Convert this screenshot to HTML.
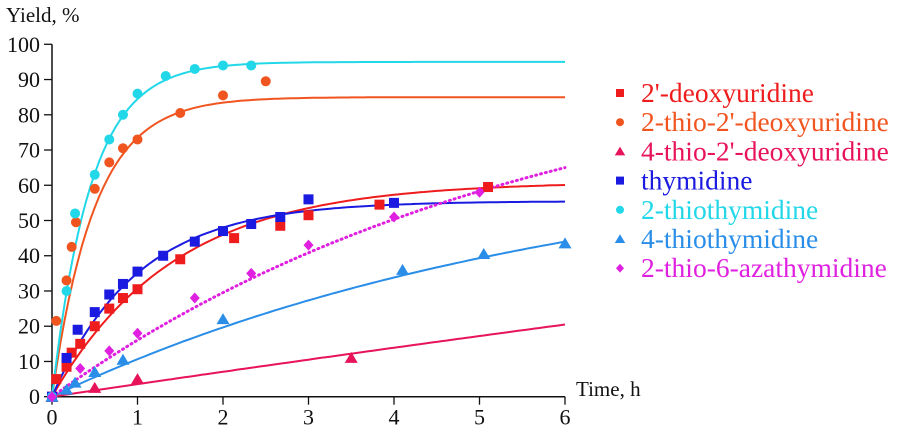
<!DOCTYPE html>
<html><head><meta charset="utf-8"><style>
body{margin:0;background:#fff}
svg text{font-family:"Liberation Serif",serif;fill:#111}
</style></head><body>
<svg id="c" width="908" height="430" xmlns="http://www.w3.org/2000/svg"></svg>
<script>
const xTicks=[0,1,2,3,4,5,6];
const yTicks=[0,10,20,30,40,50,60,70,80,90,100];
const seriesNames=["2'-deoxyuridine","2-thio-2'-deoxyuridine","4-thio-2'-deoxyuridine","thymidine","2-thiothymidine","4-thiothymidine","2-thio-6-azathymidine"];
const seriesColors=["#ee1c1c","#f05520","#e8145a","#1a1ae0","#22d8e8","#2a8ee8","#e020e0"];
const seriesMarkers=["square","circle","triangle","square","circle","triangle","diamond"];
const fitA=[61,85,200,55.5,95,70,100];
const fitK=[0.7,2.0,0.018,1.0,2.2,0.165,0.175];
const s0t=[0,0.05,0.17,0.23,0.33,0.5,0.67,0.83,1,1.5,2.13,2.67,3,3.83,5.1];
const s0v=[0,5,8.5,12.5,15,20,25,28,30.5,39,45,48.5,51.5,54.5,59.5];
const s1t=[0,0.05,0.17,0.23,0.28,0.5,0.67,0.83,1,1.5,2,2.5];
const s1v=[0,21.5,33,42.5,49.5,59,66.5,70.5,73,80.5,85.5,89.5];
const s2t=[0,0.5,1,3.5];
const s2v=[0,2.5,5,11];
const s3t=[0,0.17,0.3,0.5,0.67,0.83,1,1.3,1.67,2,2.33,2.67,3,4];
const s3v=[0,11,19,24,29,32,35.5,40,44,47,49,51,56,55];
const s4t=[0,0.17,0.27,0.5,0.67,0.83,1,1.33,1.67,2,2.33];
const s4v=[0,30,52,63,73,80,86,91,93,94,94];
const s5t=[0,0.17,0.27,0.5,0.83,2,4.1,5.05,6];
const s5v=[0,2,4,7,10.5,22,36,40.5,43.5];
const s6t=[0,0.33,0.67,1,1.67,2.33,3,4,5];
const s6v=[0,8,13,18,28,35,43,51,58];
const allT=[s0t,s1t,s2t,s3t,s4t,s5t,s6t];
const allV=[s0v,s1v,s2v,s3v,s4v,s5v,s6v];

const svg=document.getElementById('c');
const NS='http://www.w3.org/2000/svg';
const X=t=>52+t*85.5;
const Y=v=>396.7-v*3.524;
function mk(tag,attrs,parent){const e=document.createElementNS(NS,tag);for(const k in attrs)e.setAttribute(k,attrs[k]);(parent||svg).appendChild(e);return e;}

let ax=mk('path',{d:`M${X(0)} ${Y(100)}V${Y(0)}H${X(6)}`,stroke:'#111','stroke-width':1.5,fill:'none'});


yTicks.forEach(v=>{
  const l=mk('line',{x1:X(0)-8,x2:X(0),y1:Y(v),y2:Y(v),stroke:'#111','stroke-width':1.3});
  
  
  const t=mk('text',{x:X(0)-12,y:Y(v)+7.5,'text-anchor':'end','font-size':22});
  t.textContent=v;
  
  
});
xTicks.forEach(v=>{
  const l=mk('line',{x1:X(v),x2:X(v),y1:Y(0),y2:Y(0)+8,stroke:'#111','stroke-width':1.3});
  
  
  const t=mk('text',{x:X(v),y:Y(0)+28,'text-anchor':'middle','font-size':22});
  t.textContent=v;
  
  
});
let yt=mk('text',{x:6,y:22,'font-size':21});yt.textContent='Yield, %';


let xt=mk('text',{x:576,y:396,'font-size':21});xt.textContent='Time, h';



function marker(type,cx,cy,col,name,s){
  s=s||1;let e;
  if(type==='square')e=mk('rect',{x:cx-5*s,y:cy-5*s,width:10*s,height:10*s,fill:col});
  else if(type==='circle')e=mk('circle',{cx,cy,r:5*s,fill:col});
  else if(type==='triangle')e=mk('polygon',{points:`${cx},${cy-6*s} ${cx+6.5*s},${cy+5*s} ${cx-6.5*s},${cy+5*s}`,fill:col});
  else e=mk('polygon',{points:`${cx},${cy-5.5*s} ${cx+5*s},${cy} ${cx},${cy+5.5*s} ${cx-5*s},${cy}`,fill:col});
  
  
  return e;
}
seriesNames.forEach((n,i)=>{
  let d='';
  for(let j=0;j<=120;j++){const t=j*6/120;const v=fitA[i]*(1-Math.exp(-fitK[i]*t));d+=(j?'L':'M')+X(t).toFixed(1)+' '+Y(v).toFixed(1);}
  const p=mk('path',{d,stroke:seriesColors[i],'stroke-width':2,fill:'none'});
  if(i===6){p.setAttribute('stroke-dasharray','1 4');p.setAttribute('stroke-width',3);p.setAttribute('stroke-linecap','round');}
  
  
});
seriesNames.forEach((n,i)=>{
  allT[i].forEach((t,j)=>marker(seriesMarkers[i],X(t),Y(allV[i][j]),seriesColors[i],'data-point'));
});
seriesNames.forEach((n,i)=>{
  const y=93+i*29.2;
  marker(seriesMarkers[i],620,y,seriesColors[i],'legend-marker',0.8);
  const t=mk('text',{x:641,y:y+9,'font-size':27.5});
  t.style.fill=seriesColors[i];
  t.textContent=n;
  
  
});
</script>
</body></html>
